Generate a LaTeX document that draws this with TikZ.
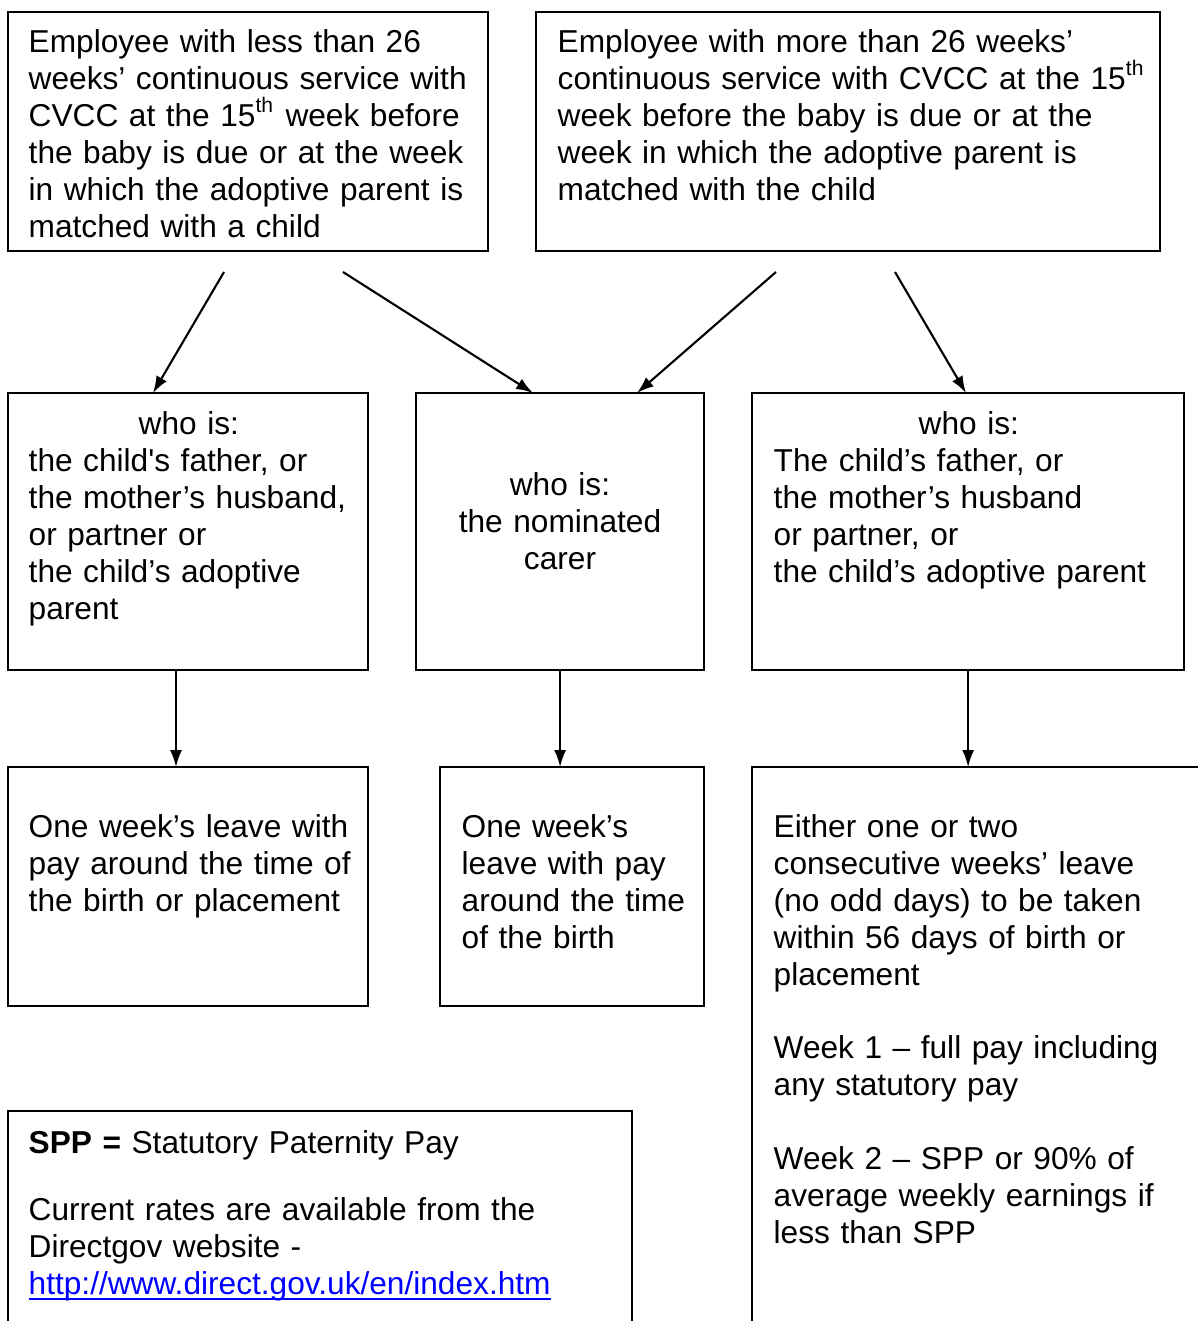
\documentclass[tikz,border=0pt]{standalone}
\usepackage{fontspec}
\newfontfamily\arialfont{Liberation Sans}
\usepackage{tikz}
\usetikzlibrary{arrows.meta, positioning, calc}
\definecolor{linkblue}{RGB}{0,0,255}
\newcommand{\boxfont}{\arialfont\fontsize{9.0pt}{10.53pt}\selectfont}
\tikzset{
  box/.style={draw, line width=0.55pt, anchor=north west, inner sep=0pt, outer sep=0pt},
  txt/.style={font=\boxfont, align=left, anchor=base west, inner sep=0pt},
  arr/.style={-{Latex[length=4.8pt,width=3.4pt]}, line width=0.6pt}
}

\begin{document}
\begin{tikzpicture}[x=0.01cm, y=-0.01cm]
\useasboundingbox (0,0) rectangle (1198,1321);
\clip (0,0) rectangle (1198,1321);

% Top row: length of service
\node[box, minimum width=4.80cm, minimum height=2.39cm] (less) at (8,12) {};
\node[box, minimum width=6.24cm, minimum height=2.39cm] (more) at (536,12) {};
\node[txt, text width=4.7cm] (lessT) at (28,52) {Employee with less than 26\\
weeks’ continuous service with\\
CVCC at the 15\textsuperscript{th} week before\\
the baby is due or at the week\\
in which the adoptive parent is\\
matched with a child};
\node[txt, text width=6.2cm] (moreT) at (557,52) {Employee with more than 26 weeks’\\
continuous service with CVCC at the 15\textsuperscript{th}\\
week before the baby is due or at the\\
week in which the adoptive parent is\\
matched with the child};

% Middle row: who is eligible
\node[box, minimum width=3.60cm, minimum height=2.77cm] (father1) at (8,393) {};
\node[box, minimum width=2.88cm, minimum height=2.77cm] (carer) at (416,393) {};
\node[box, minimum width=4.32cm, minimum height=2.77cm] (father2) at (752,393) {};
\node[txt, text width=3.5cm] (father1T) at (28,434) {\makebox[3.2cm]{who is:}\\
the child's father, or\\
the mother’s husband,\\
or partner or\\
the child’s adoptive\\
parent};
\node[txt, text width=2.8cm, align=center, anchor=base] (carerT) at (560,495) {who is:\\
the nominated\\
carer};
\node[txt, text width=4.3cm] (father2T) at (773,434) {\makebox[3.9cm]{who is:}\\
The child’s father, or\\
the mother’s husband\\
or partner, or\\
the child’s adoptive parent};

% Bottom row: leave and pay
\node[box, minimum width=3.60cm, minimum height=2.39cm] (leave1) at (8,767) {};
\node[box, minimum width=2.64cm, minimum height=2.39cm] (leave2) at (440,767) {};
\node[box, minimum width=5.00cm, minimum height=6.00cm] (leave3) at (752,767) {};
\node[txt, text width=3.5cm] (leave1T) at (28,837) {One week’s leave with\\
pay around the time of\\
the birth or placement};
\node[txt, text width=2.6cm] (leave2T) at (461,837) {One week’s\\
leave with pay\\
around the time\\
of the birth};
\node[txt, text width=4.3cm] (leave3T) at (773,837) {Either one or two\\
consecutive weeks’ leave\\
(no odd days) to be taken\\
within 56 days of birth or\\
placement\\[0.36cm]
Week 1 – full pay including\\
any statutory pay\\[0.37cm]
Week 2 – SPP or 90\% of\\
average weekly earnings if\\
less than SPP};

% Note on SPP
\node[box, minimum width=6.24cm, minimum height=3.00cm] (spp) at (8,1111) {};
\node[txt, text width=6.0cm] (sppT) at (28,1153) {{\bfseries SPP =} Statutory Paternity Pay\\[0.30cm]
Current rates are available from the\\
Directgov website -\\
\textcolor{linkblue}{\underline{\smash{http://www.direct.gov.uk/en/index.htm}}}};

% Arrows
\coordinate (s1) at (224,272);
\coordinate (s2) at (343,272);
\coordinate (s3) at (776,272);
\coordinate (s4) at (895,272);
\draw[arr] (s1) -- ($(father1.north west)+(145,0)$);
\draw[arr] (s2) -- ($(carer.north west)+(117,0)$);
\draw[arr] (s3) -- ($(carer.north west)+(221,0)$);
\draw[arr] (s4) -- ($(father2.north west)+(214,0)$);
\draw[arr] ($(father1.south west)+(168,0)$) -- ($(leave1.north west)+(168,0)$);
\draw[arr] (carer.south) -- (carer.south |- leave2.north);
\draw[arr] (father2.south) -- (father2.south |- leave3.north);

\end{tikzpicture}
\end{document}
